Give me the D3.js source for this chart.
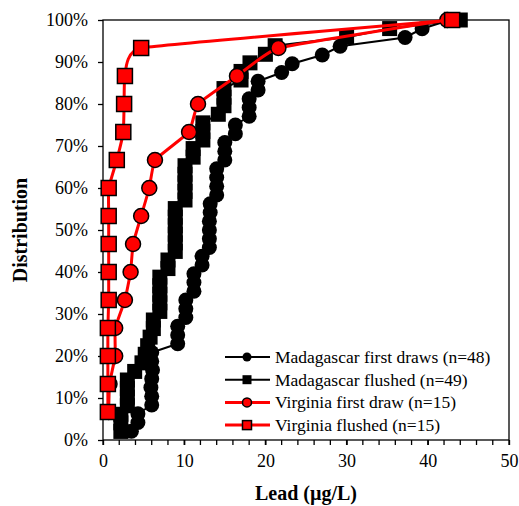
<!DOCTYPE html>
<html>
<head>
<meta charset="utf-8">
<script src="https://cdn.jsdelivr.net/npm/d3@7"></script>
<style>
  body { margin: 0; background: #fff; }
  svg text { font-family: "Liberation Serif", "Times New Roman", serif; }
</style>
</head>
<body>
<div id="chart"></div>
<script>
// lead values (ug/L), sorted
var madaFirst = [3.5, 4.3, 4.3, 6.0, 6.0, 5.9, 6.0, 6.1, 6.0, 6.0, 9.2, 9.2, 9.2, 10.2, 10.2, 10.2,
  11.2, 11.2, 11.2, 12.2, 12.2, 13.1, 13.1, 13.1, 13.1, 13.2, 13.2, 14.0, 14.0, 14.0, 14.0,
  15.0, 15.0, 15.0, 16.3, 16.3, 18.0, 18.0, 18.0, 19.1, 19.1, 22.0, 23.3, 27.0, 29.2, 37.2, 39.3, 42.7];
var madaFlushed = [2.2, 2.2, 2.2, 3.0, 3.0, 3.0, 3.0, 3.9, 4.8, 5.2, 5.5, 5.8, 6.2, 6.2, 7.0, 7.0,
  7.0, 7.0, 7.0, 8.0, 8.0, 8.9, 8.9, 8.9, 8.9, 8.9, 8.9, 10.1, 10.1, 10.1, 10.1, 10.1, 11.1, 11.1,
  12.3, 12.3, 12.3, 14.2, 14.9, 14.9, 14.9, 17.0, 17.0, 18.1, 20.0, 21.2, 30.0, 35.3, 44.0];
var virFirst = [0.7, 0.8, 1.5, 1.5, 2.7, 3.4, 3.7, 4.7, 5.7, 6.4, 10.6, 11.7, 16.5, 21.6, 42.4];
var virFlushed = [0.6, 0.6, 0.6, 0.6, 0.7, 0.7, 0.7, 0.7, 0.7, 1.7, 2.5, 2.6, 2.7, 4.7, 43.0];

var seriesNames = ["Madagascar first draws (n=48)", "Madagascar flushed (n=49)",
  "Virginia first draw (n=15)", "Virginia flushed (n=15)"];
var xTicks = [0, 10, 20, 30, 40, 50];
var yTicks = [0, 0.1, 0.2, 0.3, 0.4, 0.5, 0.6, 0.7, 0.8, 0.9, 1];

var width = 519, height = 506;
var margin = { top: 20, right: 10, bottom: 66, left: 103 };

var x = d3.scaleLinear().domain([0, 50]).range([margin.left, width - margin.right]);
var y = d3.scaleLinear().domain([0, 1]).range([height - margin.bottom, margin.top]);

var svg = d3.select("#chart").append("svg")
  .attr("width", width)
  .attr("height", height);

// each value becomes a cumulative point i/n
function cdf(vals) {
  return vals.map(function (v, i) { return { x: v, y: (i + 1) / vals.length }; });
}

var series = [
  { name: seriesNames[0], pts: cdf(madaFirst), color: "#000", shape: "circle", lw: 2, smooth: false },
  { name: seriesNames[1], pts: cdf(madaFlushed), color: "#000", shape: "square", lw: 2, smooth: false },
  { name: seriesNames[2], pts: cdf(virFirst), color: "#ff0000", shape: "circle", lw: 3, smooth: true },
  { name: seriesNames[3], pts: cdf(virFlushed), color: "#ff0000", shape: "square", lw: 3, smooth: true }
];

// frame
svg.append("rect")
  .attr("x", x(0)).attr("y", y(1))
  .attr("width", x(50) - x(0)).attr("height", y(0) - y(1))
  .attr("fill", "none").attr("stroke", "#000").attr("stroke-width", 1.3);

// axes
var xAxis = d3.axisBottom(x).tickValues(xTicks).tickSize(5).tickPadding(9);
var gx = svg.append("g").attr("transform", "translate(0," + y(0) + ")").call(xAxis);
gx.selectAll("text").attr("font-size", 18).attr("font-family", "Liberation Serif");
gx.select(".domain").remove();
gx.selectAll("line").attr("stroke-width", 1.3);
// minor ticks every 2
gx.selectAll(".minor").data(d3.range(0, 51, 2)).enter().append("line")
  .attr("x1", function (d) { return x(d); }).attr("x2", function (d) { return x(d); })
  .attr("y1", 0).attr("y2", 5).attr("stroke", "#000").attr("stroke-width", 1.3);

var yAxis = d3.axisLeft(y).tickValues(yTicks).tickFormat(d3.format(".0%")).tickSize(5).tickPadding(10);
var gy = svg.append("g").attr("transform", "translate(" + x(0) + ",0)").call(yAxis);
gy.selectAll("text").attr("font-size", 18).attr("font-family", "Liberation Serif");
gy.select(".domain").remove();
gy.selectAll("line").attr("stroke-width", 1.3);

// axis titles
svg.append("text")
  .attr("x", (x(0) + x(50)) / 2).attr("y", 500)
  .attr("text-anchor", "middle").attr("font-size", 20).attr("font-weight", "bold")
  .text("Lead (\u00b5g/L)");
svg.append("text")
  .attr("transform", "translate(27," + ((y(0) + y(1)) / 2) + ") rotate(-90)")
  .attr("text-anchor", "middle").attr("font-size", 20).attr("font-weight", "bold")
  .text("Distribution");

function drawMarker(g, shape, color, size) {
  if (shape == "circle") {
    g.append("circle").attr("r", size / 2)
      .attr("fill", color)
      .attr("stroke", "#000").attr("stroke-width", color == "#000" ? 0 : 1.5);
  } else {
    g.append("rect").attr("x", -size / 2).attr("y", -size / 2)
      .attr("width", size).attr("height", size)
      .attr("fill", color)
      .attr("stroke", "#000").attr("stroke-width", color == "#000" ? 0 : 1.5);
  }
}

var plot = svg.append("g");
series.forEach(function (s) {
  var line = d3.line()
    .x(function (d) { return x(d.x); })
    .y(function (d) { return y(d.y); })
    .curve(s.smooth ? d3.curveCardinal.tension(0.7) : d3.curveLinear);
  plot.append("path")
    .datum(s.pts)
    .attr("d", line)
    .attr("fill", "none")
    .attr("stroke", s.color)
    .attr("stroke-width", s.lw);
  plot.selectAll(null)
    .data(s.pts)
    .enter().append("g")
    .attr("transform", function (d) { return "translate(" + x(d.x) + "," + y(d.y) + ")"; })
    .each(function () {
      drawMarker(d3.select(this), s.shape, s.color, 15);
    });
});

// legend
var legend = svg.append("g").attr("transform", "translate(225,357)");
series.forEach(function (s, i) {
  var row = legend.append("g").attr("transform", "translate(0," + (i * 22.7) + ")");
  row.append("line").attr("x1", 0).attr("x2", 45).attr("y1", 0).attr("y2", 0)
    .attr("stroke", s.color).attr("stroke-width", s.lw);
  var m = row.append("g").attr("transform", "translate(22,0)");
  drawMarker(m, s.shape, s.color, 9);
  row.append("text").attr("x", 50).attr("y", 6)
    .attr("font-size", 17.5)
    .text(s.name);
});
</script>
</body>
</html>
